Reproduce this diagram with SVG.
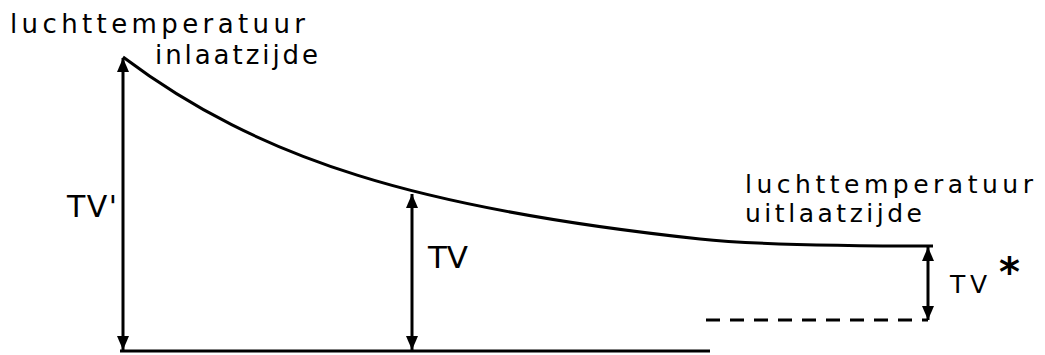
<svg xmlns="http://www.w3.org/2000/svg" width="1045" height="355" viewBox="0 0 1045 355">
<style>
.lbl{font-family:"DejaVu Sans","Liberation Sans",Arial,sans-serif;fill:#000;}
.ln{stroke:#000;stroke-width:3;fill:none;}
</style>
<defs>
<marker id="ah" viewBox="0 0 14 12" refX="14" refY="6" markerWidth="14" markerHeight="12" markerUnits="userSpaceOnUse" orient="auto-start-reverse">
<path d="M0,0 L14,6 L0,12 Z" fill="#000"/>
</marker>
</defs>
<rect width="1045" height="355" fill="#fff"/>
<g id="connectors">
<path id="curve" class="ln" d="M123,57 C260,160 420,209 700,239 C760,245.4 880,246 933,246"/>
<line id="baseline" class="ln" x1="120" y1="351" x2="710" y2="351"/>
<line id="dashed" class="ln" x1="706" y1="320" x2="928" y2="320" stroke-dasharray="14,10"/>
<line id="arrow-tvprime" class="ln" x1="123" y1="58" x2="123" y2="350" marker-start="url(#ah)" marker-end="url(#ah)"/>
<line id="arrow-tv" class="ln" x1="412" y1="194" x2="412" y2="350" marker-start="url(#ah)" marker-end="url(#ah)"/>
<line id="arrow-tvstar" class="ln" x1="928" y1="247" x2="928" y2="320" marker-start="url(#ah)" marker-end="url(#ah)"/>
</g>
<g id="label-inlaat">
<text class="lbl" x="10" y="33" font-size="26" textLength="295" lengthAdjust="spacing">luchttemperatuur</text>
<text class="lbl" x="155" y="64" font-size="26" textLength="163" lengthAdjust="spacing">inlaatzijde</text>
</g>
<g id="label-uitlaat">
<text class="lbl" x="745" y="193" font-size="25" textLength="288" lengthAdjust="spacing">luchttemperatuur</text>
<text class="lbl" x="745" y="222" font-size="25" textLength="177" lengthAdjust="spacing">uitlaatzijde</text>
</g>
<g id="label-tvprime">
<text class="lbl" x="67" y="217" font-size="30" textLength="50" lengthAdjust="spacing">TV'</text>
</g>
<g id="label-tv">
<text class="lbl" x="428" y="268" font-size="31" textLength="40" lengthAdjust="spacing">TV</text>
</g>
<g id="label-tvstar">
<text class="lbl" x="950" y="293" font-size="25" textLength="37" lengthAdjust="spacing">TV</text>
<text class="lbl" x="999" y="286" font-size="40" font-weight="bold">*</text>
</g>
</svg>
